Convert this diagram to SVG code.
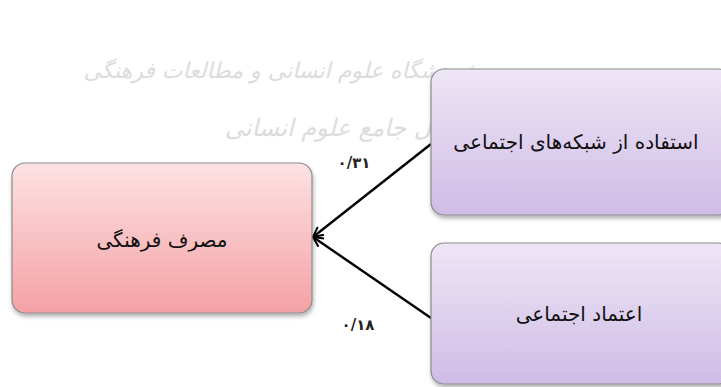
<svg xmlns="http://www.w3.org/2000/svg" width="721" height="387" viewBox="0 0 721 387">
<defs>
<linearGradient id="pink" x1="0" y1="0" x2="0" y2="1">
<stop offset="0" stop-color="#fde2e3"/>
<stop offset="1" stop-color="#f4a1a4"/>
</linearGradient>
<linearGradient id="purp" x1="0" y1="0" x2="0" y2="1">
<stop offset="0" stop-color="#eee6f6"/>
<stop offset="1" stop-color="#cfbce6"/>
</linearGradient>
<filter id="sh" x="-10%" y="-10%" width="120%" height="130%">
<feDropShadow dx="1" dy="3" stdDeviation="2" flood-color="#000" flood-opacity="0.3"/>
</filter>
<marker id="arr" viewBox="0 0 12 12" refX="11" refY="6" markerWidth="12" markerHeight="12" markerUnits="userSpaceOnUse" orient="auto">
<path d="M1,1 L11,6 L1,11" fill="none" stroke="#000" stroke-width="2"/>
</marker>
<style>
.box{stroke:#8c8c8c;stroke-width:1.2;filter:url(#sh)}
.t{font-family:"DejaVu Sans",sans-serif;font-size:20px;fill:#111;text-anchor:middle}
.lbl{font-family:"DejaVu Sans",sans-serif;font-size:15px;font-weight:bold;fill:#222;text-anchor:middle}
.wm{font-family:"DejaVu Sans",sans-serif;fill:#dcdcdc;text-anchor:middle;font-style:italic}
.c{stroke:#000;stroke-width:2.4;fill:none;marker-end:url(#arr)}
</style>
</defs>
<rect width="721" height="387" fill="#fff"/>
<g id="watermark">
<text class="wm" x="282" y="78" font-size="22" direction="rtl">پژوهشگاه علوم انسانی و مطالعات فرهنگی</text>
<text class="wm" x="345" y="136" font-size="24" direction="rtl">پرتال جامع علوم انسانی</text>
</g>
<g id="connectors">
<line class="c" x1="431" y1="144" x2="313" y2="237"/>
<line class="c" x1="431" y1="318" x2="313" y2="237"/>
<text class="lbl" x="354" y="168">۰/۳۱</text>
<text class="lbl" x="358" y="330">۰/۱۸</text>
</g>
<g id="node-consumption">
<rect class="box" x="12" y="163" width="300" height="150" rx="13" fill="url(#pink)"/>
<text class="t" x="162" y="247" direction="rtl">مصرف فرهنگی</text>
</g>
<g id="node-social-networks">
<rect class="box" x="431" y="69" width="300" height="146" rx="13" fill="url(#purp)"/>
<text class="t" x="576" y="149" direction="rtl">استفاده از شبکه‌های اجتماعی</text>
</g>
<g id="node-social-trust">
<rect class="box" x="431" y="243" width="300" height="141" rx="13" fill="url(#purp)"/>
<text class="t" x="579" y="321" direction="rtl">اعتماد اجتماعی</text>
</g>
</svg>
